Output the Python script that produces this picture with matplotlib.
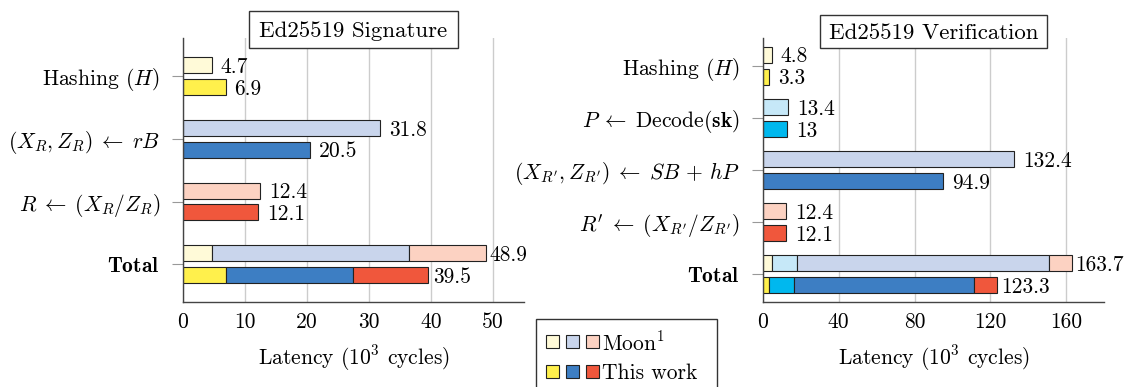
import matplotlib
matplotlib.use("Agg")
import matplotlib.pyplot as plt
from matplotlib.patches import Rectangle
import numpy as np

plt.rcParams['font.family'] = 'serif'
plt.rcParams['font.serif'] = ['cmr10', 'DejaVu Serif']
plt.rcParams['mathtext.fontset'] = 'cm'
plt.rcParams['axes.formatter.use_mathtext'] = True

# ---------------- data ----------------
sig_steps = [r"Hashing ($H$)", r"$(X_R, Z_R) \;\leftarrow\; rB$",
             r"$R \;\leftarrow\; (X_R/Z_R)$", r"$\mathbf{Total}$"]
sig_moon = [4.7, 31.8, 12.4]
sig_this = [6.9, 20.5, 12.1]
sig_total_labels = [48.9, 39.5]

ver_steps = [r"Hashing ($H$)", r"$P \;\leftarrow\; \mathrm{Decode}(\mathbf{sk})$",
             r"$(X_{R'}, Z_{R'}) \;\leftarrow\; SB \,+\, hP$",
             r"$R' \;\leftarrow\; (X_{R'}/Z_{R'})$", r"$\mathbf{Total}$"]
ver_moon = [4.8, 13.4, 132.4, 12.4]
ver_this = [3.3, 13, 94.9, 12.1]
ver_total_labels = [163.7, 123.3]

sig_xticks = [0, 10, 20, 30, 40, 50]
ver_xticks = [0, 40, 80, 120, 160]

# colors
c_moon = {'hash': '#FFFAD8', 'dec': '#C6E8F8', 'mul': '#C9D5EC', 'inv': '#FCD2C2'}
c_this = {'hash': '#FFF04C', 'dec': '#00B8EE', 'mul': '#3D7EC3', 'inv': '#F0573C'}
sig_keys = ['hash', 'mul', 'inv']
ver_keys = ['hash', 'dec', 'mul', 'inv']

FS = 15.5
W, H = 1128, 387
fig = plt.figure(figsize=(W / 100, H / 100), dpi=100)


def fx(px):
    return px / W


def fy(py):
    return 1 - py / H


def make_axes(left_px, xlim, ylim, steps, moon, this, keys, totals, xticks, title,
              half, bh, title_box):
    ax = fig.add_axes([fx(left_px), fy(302.3), 341.6 / W, 264 / H])
    n = len(moon)
    edge = dict(edgecolor='#222222', linewidth=0.8)
    # individual bars
    for i in range(n):
        ax.barh(i - half, moon[i], height=bh, color=c_moon[keys[i]], zorder=3, **edge)
        ax.barh(i + half, this[i], height=bh, color=c_this[keys[i]], zorder=3, **edge)
        ax.annotate(f"{moon[i]:g}", (moon[i], i - half), xytext=(6.5, 0),
                    textcoords='offset points', va='center_baseline', ha='left',
                    fontsize=FS)
        ax.annotate(f"{this[i]:g}", (this[i], i + half), xytext=(6.5, 0),
                    textcoords='offset points', va='center_baseline', ha='left',
                    fontsize=FS)
    # stacked totals
    lm = 0.0
    lt = 0.0
    for i in range(n):
        ax.barh(n - half, moon[i], left=lm, height=bh, color=c_moon[keys[i]], zorder=3, **edge)
        ax.barh(n + half, this[i], left=lt, height=bh, color=c_this[keys[i]], zorder=3, **edge)
        lm += moon[i]
        lt += this[i]
    ax.annotate(f"{totals[0]:g}", (lm, n - half), xytext=(2.5, 0),
                textcoords='offset points', va='center_baseline', ha='left', fontsize=FS)
    ax.annotate(f"{totals[1]:g}", (lt, n + half), xytext=(3.5, 0),
                textcoords='offset points', va='center_baseline', ha='left', fontsize=FS)

    ax.set_xlim(*xlim)
    ax.set_ylim(*ylim)
    ax.set_yticks(range(n + 1))
    ax.set_yticklabels(steps, fontsize=FS)
    ax.set_xticks(xticks)
    ax.set_xticklabels([str(t) for t in xticks], fontsize=FS)
    ax.tick_params(axis='y', length=8, width=0.8, color='#999999', pad=8.4)
    ax.tick_params(axis='x', length=0, pad=7.5)
    ax.grid(axis='x', color='#CCCCCC', linewidth=1.0, zorder=0)
    ax.set_axisbelow(True)
    for s in ['top', 'right']:
        ax.spines[s].set_visible(False)
    for s in ['left', 'bottom']:
        ax.spines[s].set_color('#444444')
        ax.spines[s].set_linewidth(1.0)
        ax.spines[s].set_zorder(4)
    ax.set_xlabel(r"Latency (10$^3$ cycles)", fontsize=FS, labelpad=8)
    # title box
    x0, x1, y0, y1 = title_box
    ax.add_patch(Rectangle((fx(x0), fy(y1)), fx(x1 - x0), (y1 - y0) / H,
                           transform=fig.transFigure, facecolor='white',
                           edgecolor='#333333', linewidth=1.0, zorder=10,
                           clip_on=False))
    fig.text(fx((x0 + x1) / 2), fy((y0 + y1) / 2), title, fontsize=16.5,
             ha='center', va='center_baseline', zorder=11)
    return ax


make_axes(182.7, (0, 55), (3.605, -0.6), sig_steps, sig_moon, sig_this, sig_keys,
          sig_total_labels, sig_xticks, "Ed25519 Signature", 0.174, 0.255,
          (249.3, 457.7, 10.7, 48.0))
make_axes(762.7, (0, 180), (4.537, -0.525), ver_steps, ver_moon, ver_this, ver_keys,
          ver_total_labels, ver_xticks, "Ed25519 Verification", 0.21, 0.307,
          (820.0, 1047.3, 14.7, 48.0))

# ---------------- legend ----------------
fig.add_artist(Rectangle((fx(536), fy(400)), fx(717.3 - 536), (400 - 319.3) / H,
                         transform=fig.transFigure, facecolor='white',
                         edgecolor='#333333', linewidth=1.0, clip_on=False))
rows = [(341, [c_moon['hash'], c_moon['mul'], c_moon['inv']], r"Moon$^1$"),
        (371.7, [c_this['hash'], c_this['mul'], c_this['inv']], "This work")]
for yc, cols, lab in rows:
    for k, c in enumerate(cols):
        x0 = 546 + 20 * k
        fig.add_artist(Rectangle((fx(x0), fy(yc + 6.5)), fx(13.3), 13 / H,
                                 transform=fig.transFigure, facecolor=c,
                                 edgecolor='#222222', linewidth=0.8))
    fig.text(fx(601.5), fy(yc), lab, fontsize=FS, ha='left', va='center_baseline')

fig.savefig("out.png", dpi=100)
